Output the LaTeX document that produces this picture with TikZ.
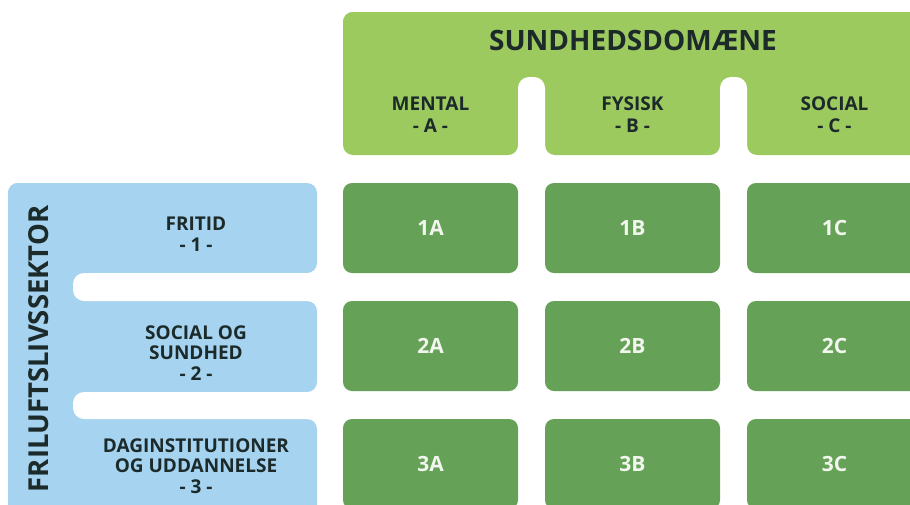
\documentclass[tikz,border=0pt]{standalone}
\usepackage{fontspec}
\setmainfont{Open Sans}
\definecolor{hdrgreen}{HTML}{9DCA5F}
\definecolor{cellgreen}{HTML}{65A157}
\definecolor{tabblue}{HTML}{A5D3F0}
\definecolor{inkdark}{HTML}{1C2A2A}
\definecolor{inklight}{HTML}{F2F6EE}
\tikzset{
  cellbox/.style={fill=cellgreen, rounded corners=9pt, minimum width=175pt, minimum height=90pt,
    inner sep=0pt, text=inklight, font=\fontsize{21}{24}\selectfont\bfseries},
  collabel/.style={text=inkdark, align=center, inner sep=0pt, font=\fontsize{19}{22}\selectfont\bfseries},
  rowlabel/.style={text=inkdark, align=center, inner sep=0pt, font=\fontsize{19}{20.5}\selectfont\bfseries},
}
\begin{document}
\begin{tikzpicture}[x=1pt,y=-1pt]
\useasboundingbox (0,0) rectangle (910,504);
\clip (0,0) rectangle (910,504);
\fill[white] (0,0) rectangle (910,504);
% header (health domain)
\fill[hdrgreen, rounded corners=10pt] (343,12) rectangle (950,100);
\fill[hdrgreen, rounded corners=10pt] (343,12) rectangle (518,155);
\fill[hdrgreen, rounded corners=10pt] (545,12) rectangle (720,155);
\fill[hdrgreen, rounded corners=10pt] (747,12) rectangle (922,155);
\fill[white, rounded corners=11pt] (518,77) rectangle (545,175);
\fill[white, rounded corners=11pt] (720,77) rectangle (747,175);
\node[text=inkdark, inner sep=0pt, font=\fontsize{28}{30}\selectfont\bfseries] (title) at (633,40) {SUNDHEDSDOMÆNE};
\node[collabel] (colA) at (430.5,115) {MENTAL\\- A -};
\node[collabel] (colB) at (632.5,115) {FYSISK\\- B -};
\node[collabel] (colC) at (834.5,115) {SOCIAL\\- C -};
% left sector
\fill[tabblue, rounded corners=10pt] (8,183) rectangle (100,530);
\fill[tabblue, rounded corners=10pt] (8,183) rectangle (317,273);
\fill[tabblue, rounded corners=10pt] (8,301) rectangle (317,392);
\fill[tabblue, rounded corners=10pt] (8,419) rectangle (317,530);
\fill[white, rounded corners=11pt] (73,273) rectangle (340,301);
\fill[white, rounded corners=11pt] (73,392) rectangle (340,419);
\node[text=inkdark, inner sep=0pt, rotate=90, font=\fontsize{27.5}{29}\selectfont\bfseries] (sector) at (39,349) {FRILUFTSLIVSSEKTOR};
\node[rowlabel] (row1) at (196,234) {FRITID\\- 1 -};
\node[rowlabel] (row2) at (196,353) {SOCIAL OG\\SUNDHED\\- 2 -};
\node[rowlabel] (row3) at (196,466) {DAGINSTITUTIONER\\OG UDDANNELSE\\- 3 -};
% grid
\node[cellbox] (c1A) at (430.5,228) {1A};
\node[cellbox] (c1B) at (632.5,228) {1B};
\node[cellbox] (c1C) at (834.5,228) {1C};
\node[cellbox] (c2A) at (430.5,346) {2A};
\node[cellbox] (c2B) at (632.5,346) {2B};
\node[cellbox] (c2C) at (834.5,346) {2C};
\node[cellbox] (c3A) at (430.5,464) {3A};
\node[cellbox] (c3B) at (632.5,464) {3B};
\node[cellbox] (c3C) at (834.5,464) {3C};
\end{tikzpicture}
\end{document}
